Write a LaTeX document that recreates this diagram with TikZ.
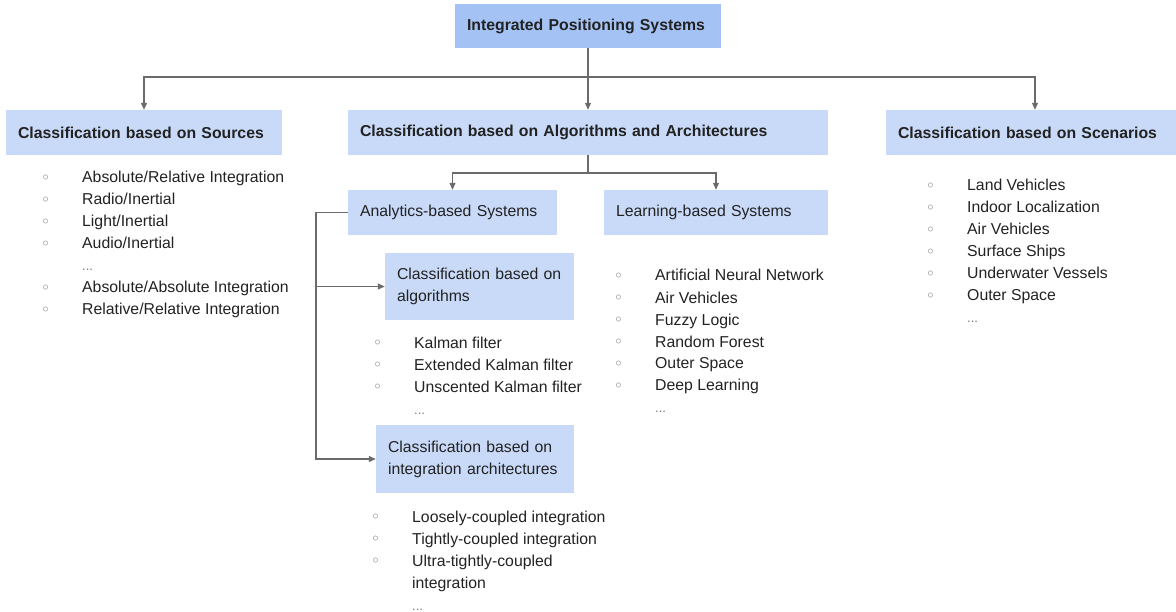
\documentclass[tikz,border=0pt]{standalone}
\usepackage{fontspec}
\setmainfont{Liberation Sans}
\usetikzlibrary{arrows.meta}
\definecolor{blutop}{HTML}{A4C2F4}
\definecolor{bluebox}{HTML}{C9DAF8}
\definecolor{linee}{HTML}{6B6B6B}
\definecolor{testo}{HTML}{222222}
\definecolor{pallino}{HTML}{7A7A7A}
\newcommand{\bul}{\llap{\raisebox{2.6pt}{\textcolor{pallino}{\fontsize{13}{13}\selectfont$\circ$}}\hspace{33.5pt}}}
\newcommand{\etc}{\textcolor{pallino}{\fontsize{13}{13}\selectfont...}}

\begin{document}
\begin{tikzpicture}[x=1pt,y=-1pt,>={Triangle[length=7pt,width=6pt]},
  box/.style={fill=bluebox,text=testo,text width=#1,align=left,inner xsep=12pt,inner ysep=0pt,
    minimum height=45pt,font=\fontsize{15.8}{22}\selectfont},
  elenco/.style={anchor=base west,inner sep=0pt,align=left,text=testo,font=\fontsize{15.8}{22}\selectfont},
  conn/.style={draw=linee,line width=1.2pt}]
  \useasboundingbox (0,0) rectangle (1176,612);

  % top level and the three classifications
  \node[box=242,fill=blutop,minimum height=44pt] (ips) at (588,26) {\textbf{Integrated Positioning Systems}};
  \node[box=252] (src) at (144,132.5) {\textbf{Classification based on Sources}};
  \node[box=456] (mid) at (588,132.5) {\textbf{Classification based on Algorithms and Architectures}};
  \node[box=274] (scn) at (1035,132.5) {\textbf{Classification based on Scenarios}};

  % second level under algorithms and architectures
  \node[box=185] (ana) at (452.5,212.5) {Analytics-based Systems};
  \node[box=200] (lrn) at (716,212.5) {Learning-based Systems};
  \node[box=165,minimum height=67pt] (algo) at (479.5,286.5) {Classification based on\\algorithms};
  \node[box=174,minimum height=68pt] (arch) at (475,459) {Classification based on\\integration architectures};

  % lists (anchored on the baseline of their last line)
  \node[elenco] (srclist) at (82,315) {\bul Absolute/Relative Integration\\\bul Radio/Inertial\\\bul Light/Inertial\\
    \bul Audio/Inertial\\\etc\\\bul Absolute/Absolute Integration\\\bul Relative/Relative Integration};
  \node[elenco] (algolist) at (414,414) {\bul Kalman filter\\\bul Extended Kalman filter\\\bul Unscented Kalman filter\\\etc};
  \node[elenco] (archlist) at (412,610) {\bul Loosely-coupled integration\\\bul Tightly-coupled integration\\
    \bul Ultra-tightly-coupled\\integration\\\etc};
  \node[elenco] (lrnlist) at (655,413) {\bul Artificial Neural Network\\\bul Air Vehicles\\\bul Fuzzy Logic\\
    \bul Random Forest\\\bul Outer Space\\\bul Deep Learning\\\etc};
  \node[elenco] (scnlist) at (967,323) {\bul Land Vehicles\\\bul Indoor Localization\\\bul Air Vehicles\\
    \bul Surface Ships\\\bul Underwater Vessels\\\bul Outer Space\\\etc};

  % connectors
  \coordinate (hub) at (588,77);
  \draw[conn] (ips.south) -- (hub);
  \draw[conn,->] (hub) -- (mid.north);
  \draw[conn,->] (hub) -| (src.north);
  \draw[conn,->] (hub) -| (scn.north);

  \coordinate (split) at (588,173);
  \draw[conn] (mid.south) -- (split);
  \draw[conn,->] (split) -| (ana.north);
  \draw[conn,->] (split) -| (lrn.north);

  \coordinate (rail) at (316,212.5);
  \draw[conn] (ana.west) -- (rail);
  \draw[conn,->] (rail) |- (algo.west);
  \draw[conn,->] (rail) |- (arch.west);
\end{tikzpicture}
\end{document}
